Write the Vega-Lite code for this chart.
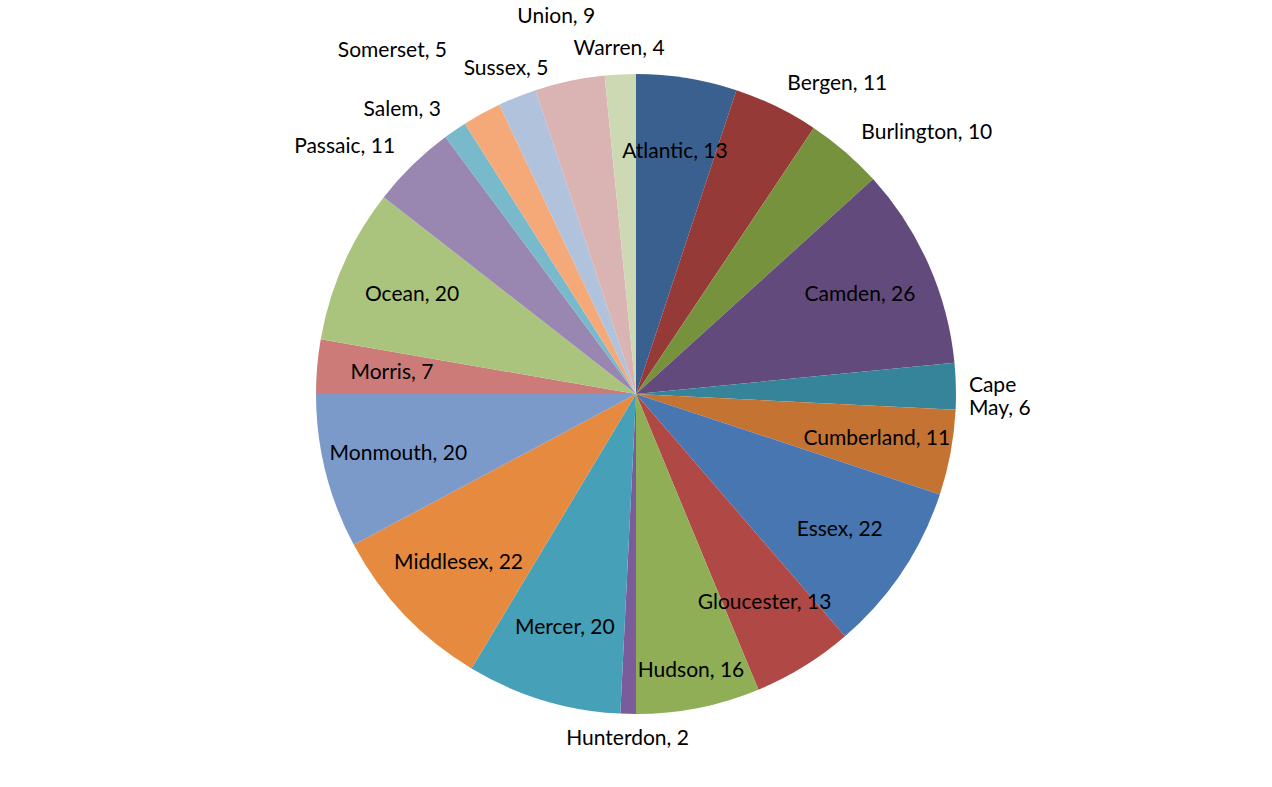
{
  "$schema": "https://vega.github.io/schema/vega-lite/v6.json",
  "width": 1272,
  "height": 787,
  "autosize": {"type": "fit", "contains": "padding"},
  "background": "white",
  "config": {"view": {"stroke": null}, "font": "Lato"},
  "data": {"values": [
    {"idx": 1, "county": "Atlantic", "value": 13, "label": "Atlantic, 13"},
    {"idx": 2, "county": "Bergen", "value": 11, "label": "Bergen, 11"},
    {"idx": 3, "county": "Burlington", "value": 10, "label": "Burlington, 10"},
    {"idx": 4, "county": "Camden", "value": 26, "label": "Camden, 26"},
    {"idx": 5, "county": "Cape May", "value": 6, "label": "Cape\nMay, 6"},
    {"idx": 6, "county": "Cumberland", "value": 11, "label": "Cumberland, 11"},
    {"idx": 7, "county": "Essex", "value": 22, "label": "Essex, 22"},
    {"idx": 8, "county": "Gloucester", "value": 13, "label": "Gloucester, 13"},
    {"idx": 9, "county": "Hudson", "value": 16, "label": "Hudson, 16"},
    {"idx": 10, "county": "Hunterdon", "value": 2, "label": "Hunterdon, 2"},
    {"idx": 11, "county": "Mercer", "value": 20, "label": "Mercer, 20"},
    {"idx": 12, "county": "Middlesex", "value": 22, "label": "Middlesex, 22"},
    {"idx": 13, "county": "Monmouth", "value": 20, "label": "Monmouth, 20"},
    {"idx": 14, "county": "Morris", "value": 7, "label": "Morris, 7"},
    {"idx": 15, "county": "Ocean", "value": 20, "label": "Ocean, 20"},
    {"idx": 16, "county": "Passaic", "value": 11, "label": "Passaic, 11"},
    {"idx": 17, "county": "Salem", "value": 3, "label": "Salem, 3"},
    {"idx": 18, "county": "Somerset", "value": 5, "label": "Somerset, 5"},
    {"idx": 19, "county": "Sussex", "value": 5, "label": "Sussex, 5"},
    {"idx": 20, "county": "Union", "value": 9, "label": "Union, 9"},
    {"idx": 21, "county": "Warren", "value": 4, "label": "Warren, 4"}
  ]},
  "layer": [
    {
      "mark": {"type": "arc", "outerRadius": 320, "stroke": null},
      "encoding": {
        "theta": {"field": "value", "type": "quantitative", "stack": true},
        "order": {"field": "idx", "type": "quantitative"},
        "color": {
          "field": "county", "type": "nominal", "legend": null,
          "scale": {
            "domain": ["Atlantic","Bergen","Burlington","Camden","Cape May","Cumberland","Essex","Gloucester","Hudson","Hunterdon","Mercer","Middlesex","Monmouth","Morris","Ocean","Passaic","Salem","Somerset","Sussex","Union","Warren"],
            "range": ["#3A6090","#953A37","#77923D","#624A7C","#36849A","#C47332","#4876B0","#B04846","#8FAE55","#7A5C9A","#45A0B8","#E58A3F","#7C9AC9","#CC7B79","#AAC47E","#9A87B1","#78BACC","#F5A878","#B0C2DC","#DAB3B3","#CDD9B3"]
          }
        }
      }
    },
    {
      "mark": {"type": "text", "radius": 245, "fontSize": 21, "color": "black"},
      "encoding": {
        "theta": {"field": "value", "type": "quantitative", "stack": true},
        "order": {"field": "idx", "type": "quantitative"},
        "text": {"condition": {"test": "indexof(['Atlantic','Camden','Cumberland','Essex','Gloucester','Mercer','Middlesex','Monmouth','Morris','Ocean'], datum.county) >= 0", "field": "label"}, "value": ""}
      }
    },
    {
      "mark": {"type": "text", "radius": 282, "fontSize": 21, "color": "black"},
      "encoding": {
        "theta": {"field": "value", "type": "quantitative", "stack": true},
        "order": {"field": "idx", "type": "quantitative"},
        "text": {"condition": {"test": "datum.county === 'Hudson'", "field": "label"}, "value": ""}
      }
    },
    {
      "mark": {"type": "text", "radius": 345, "fontSize": 21, "color": "black", "align": "center"},
      "encoding": {
        "theta": {"field": "value", "type": "quantitative", "stack": true},
        "order": {"field": "idx", "type": "quantitative"},
        "text": {"condition": {"test": "indexof(['Warren','Hunterdon'], datum.county) >= 0", "field": "label"}, "value": ""}
      }
    },
    {
      "mark": {"type": "text", "radius": 385, "fontSize": 21, "color": "black", "align": "center"},
      "encoding": {
        "theta": {"field": "value", "type": "quantitative", "stack": true},
        "order": {"field": "idx", "type": "quantitative"},
        "text": {"condition": {"test": "datum.county === 'Union'", "field": "label"}, "value": ""}
      }
    },
    {
      "mark": {"type": "text", "radius": 350, "fontSize": 21, "color": "black", "align": "center"},
      "encoding": {
        "theta": {"field": "value", "type": "quantitative", "stack": true},
        "order": {"field": "idx", "type": "quantitative"},
        "text": {"condition": {"test": "datum.county === 'Sussex'", "field": "label"}, "value": ""}
      }
    },
    {
      "mark": {"type": "text", "radius": 392, "fontSize": 21, "color": "black", "align": "right"},
      "encoding": {
        "theta": {"field": "value", "type": "quantitative", "stack": true},
        "order": {"field": "idx", "type": "quantitative"},
        "text": {"condition": {"test": "datum.county === 'Somerset'", "field": "label"}, "value": ""}
      }
    },
    {
      "mark": {"type": "text", "radius": 345, "fontSize": 21, "color": "black", "align": "right"},
      "encoding": {
        "theta": {"field": "value", "type": "quantitative", "stack": true},
        "order": {"field": "idx", "type": "quantitative"},
        "text": {"condition": {"test": "indexof(['Salem','Passaic'], datum.county) >= 0", "field": "label"}, "value": ""}
      }
    },
    {
      "mark": {"type": "text", "radius": 345, "fontSize": 21, "color": "black", "align": "left"},
      "encoding": {
        "theta": {"field": "value", "type": "quantitative", "stack": true},
        "order": {"field": "idx", "type": "quantitative"},
        "text": {"condition": {"test": "indexof(['Bergen','Burlington'], datum.county) >= 0", "field": "label"}, "value": ""}
      }
    },
    {
      "mark": {"type": "text", "radius": 333, "fontSize": 21, "color": "black", "align": "left", "lineBreak": "\n"},
      "encoding": {
        "theta": {"field": "value", "type": "quantitative", "stack": true},
        "order": {"field": "idx", "type": "quantitative"},
        "text": {"condition": {"test": "datum.county === 'Cape May'", "field": "label"}, "value": ""}
      }
    }
  ]
}
